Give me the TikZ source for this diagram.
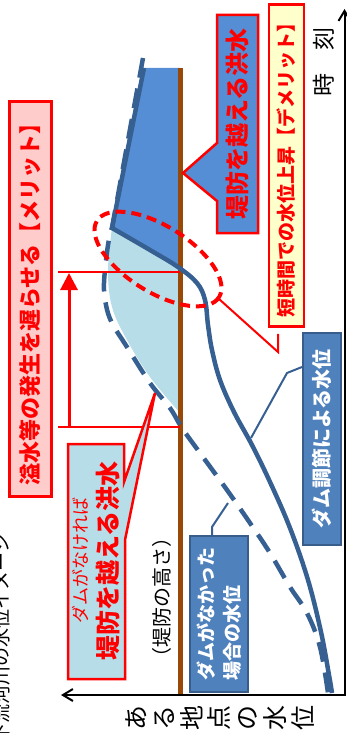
\documentclass[tikz,border=0pt]{standalone}
\usepackage{fontspec}
\setmainfont{Noto Sans CJK JP}
\usetikzlibrary{arrows.meta}

\definecolor{floodblue}{HTML}{558ED5}
\definecolor{lightflood}{HTML}{B7DDE8}
\definecolor{curveblue}{HTML}{376092}
\definecolor{dikebrown}{HTML}{984807}
\definecolor{boxblue}{HTML}{4F81BD}
\definecolor{boxedge}{HTML}{385D8A}
\definecolor{meritpink}{HTML}{FFCCCC}
\definecolor{demerityellow}{HTML}{FFFFCC}

\newcommand{\pxfont}[2]{\fontsize{#1}{#2}\selectfont}

\tikzset{
  damline/.style={draw=curveblue, line width=4.5pt},
  nodamline/.style={draw=curveblue, line width=4.5pt, dash pattern=on 20pt off 11pt},
  dike/.style={draw=dikebrown, line width=5pt},
  vtext/.style={rotate=90, inner sep=0pt},
  redbox/.style={vtext, draw=red, line width=2.5pt, text=red},
  bluebox/.style={vtext, draw=boxedge, fill=boxblue, line width=2pt, text=white},
  calloutline/.style={draw=red, line width=2.5pt},
  leader/.style={draw=curveblue, line width=2pt},
  redline/.style={draw=red, line width=2.5pt},
  axisline/.style={line width=2pt, {Straight Barb[length=10pt,width=12pt]}-{Straight Barb[length=10pt,width=12pt]}}
}

\begin{document}
\begin{tikzpicture}[x=1pt, y=-1pt]
  \useasboundingbox (0,0) rectangle (347,733);
  \clip (0,0) rectangle (347,733);

  % areas above the dike
  \fill[floodblue] (143,68) -- (180,68) -- (180,267)
    -- plot[smooth, tension=0.6] coordinates {(178,267) (150,250) (112,228)} -- cycle;
  \fill[lightflood] (112,228)
    -- plot[smooth, tension=0.6] coordinates {(112,228) (150,250) (178,267)}
    -- (180,413)
    -- plot[smooth, tension=0.6] coordinates {(180,413) (150,377) (127,340) (112,307) (108,270) (112,228)} -- cycle;

  % dike
  \draw[dike] (180.5,68) -- (180.5,695);

  % water levels
  \draw[nodamline] (143,58) -- plot[smooth, tension=0.6] coordinates {(112,228) (108,245) (104,283) (106,305)
    (112,323) (127,347) (150,383) (170,408) (182,428) (200,453) (227,490) (250,523) (270,553)
    (290,587) (307,613) (320,647) (328,693)};
  \draw[damline] (144,68) -- plot[smooth, tension=0.6] coordinates {(112,228) (150,250) (178,267) (197,283)
    (205,300) (208,325) (212,350) (220,380) (234,412) (252,445) (270,482) (290,528) (308,580)
    (321,632) (329,675) (332,693)};
  \coordinate (damlevel) at (251,438);
  \coordinate (nodamlevel) at (228,503);

  % delay span
  \coordinate (delaytop) at (69,273);
  \coordinate (delaybottom) at (69,427);
  \draw[redline] (58,272) -- (180,272);
  \draw[redline] (58,427) -- (180,427);
  \draw[redline, line width=3pt, -{Triangle[length=17pt,width=17pt]}] (delaybottom) -- (delaytop);

  % rapid rise
  \draw[red, line width=4pt, dash pattern=on 10pt off 6pt, rotate around={-32:(158,259)}]
    (158,259) ellipse [x radius=72, y radius=33];
  \coordinate (ovaltip) at (219,299);

  % axes
  \coordinate (origin) at (344.5,695);
  \coordinate (levelend) at (61,695);
  \coordinate (timeend) at (344.5,9);
  \draw[axisline] (levelend) -- (origin) -- (timeend);

  % boxes
  \node[redbox, fill=meritpink, minimum width=395pt, minimum height=42pt, font=\bfseries\pxfont{22}{22}]
    (merit) at (30.5,299) {溢水等の発生を遅らせる【メリット】};
  \node[redbox, fill=demerityellow, minimum width=322pt, minimum height=35pt, font=\bfseries\pxfont{19}{19}]
    (demerit) at (286.5,165.5) {短時間での水位上昇【デメリット】};
  \draw[red, line width=2pt, shorten <=6pt] (demerit.west -| 278,0) -- (278,352) -- (ovaltip);

  \draw[calloutline, fill=floodblue] (217,15) -- (258,15) -- (258,233) -- (217,233) -- (217,201)
    -- (183,173) -- (217,143) -- cycle;
  \node[vtext, text=red, font=\bfseries\pxfont{24}{24}] (overflow) at (237.5,124) {堤防を越える洪水};

  \draw[calloutline, fill=lightflood] (68,444) -- (124,444) -- (124,482) -- (155,393) -- (125,540)
    -- (125,679) -- (68,679) -- cycle;
  \node[vtext, text=red, font=\pxfont{18}{18}] (ifnodam) at (80,560) {ダムがなければ};
  \node[vtext, text=red, font=\bfseries\pxfont{25}{25}] (nodamflood) at (108,561) {堤防を越える洪水};

  \node[bluebox, minimum width=212pt, minimum height=38pt, font=\bfseries\pxfont{20}{20}]
    (adjust) at (322,439) {ダム調節による水位};
  \draw[leader] (adjust.north |- 0,367) -- (287,373) -- (damlevel);

  \node[bluebox, minimum width=156pt, minimum height=58pt, align=left, font=\bfseries\pxfont{19}{26}]
    (nodam) at (219,614) {ダムがなかった\\場合の水位};
  \draw[leader] (nodam.east -| 212,0) -- (212,527) -- (nodamlevel);

  % labels
  \node[vtext, font=\pxfont{20}{20}] (dikelabel) at (162,597) {（堤防の高さ）};
  \node[vtext, font=\pxfont{23}{23}] (timelabel) at (324,62) {時　刻};
  \node[vtext, align=center, font=\pxfont{25}{27.7}] (levellabel) at (220,718) {あ\\る\\地\\点\\の\\水\\位};
  \node[vtext, font=\pxfont{19}{19}] (title) at (1,638) {下流河川の水位イメージ};
\end{tikzpicture}
\end{document}
